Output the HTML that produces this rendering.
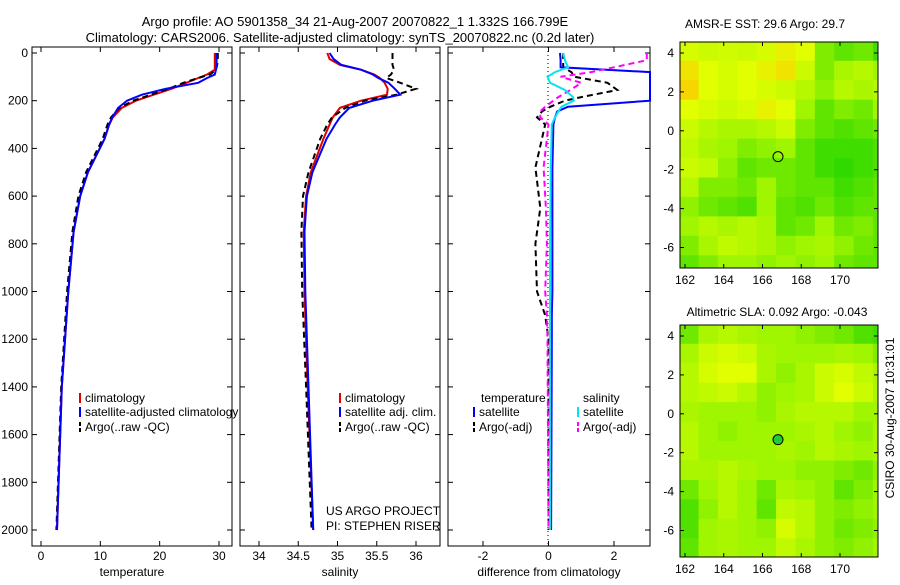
<!DOCTYPE html>
<html><head><meta charset="utf-8"><style>
body{margin:0;background:#fff;}
svg text{font-family:"Liberation Sans",sans-serif;font-size:12px;fill:#000;}
</style></head><body>
<svg id="s" width="900" height="580" xmlns="http://www.w3.org/2000/svg">
<text x="355" y="26" text-anchor="middle" style="font-size:13px">Argo profile: AO 5901358_34 21-Aug-2007 20070822_1 1.332S 166.799E</text>
<text x="340" y="42" text-anchor="middle" style="font-size:13px">Climatology: CARS2006. Satellite-adjusted climatology: synTS_20070822.nc (0.2d later)</text>
<text x="765" y="28" text-anchor="middle">AMSR-E SST: 29.6 Argo: 29.7</text>
<text x="777" y="316" text-anchor="middle">Altimetric SLA: 0.092 Argo: -0.043</text>
<text transform="translate(894,418) rotate(-90)" text-anchor="middle">CSIRO 30-Aug-2007 10:31:01</text>
</svg>
<script>
const depths=[0,25,50,70,90,105,125,150,175,200,230,270,300,360,500,600,750,1000,1400,2000];
const tClim=[29.3,29.3,29.3,29.3,28,26.5,24.5,22,19,16,13.6,12.1,11.5,10.7,7.9,6.6,5.5,4.6,3.5,2.7];
const tSat=[29.6,29.6,29.6,29.5,29.3,28,26.5,21,17,14.5,13,12,11.5,10.7,7.9,6.6,5.5,4.6,3.5,2.7];
const tArgo=[29.8,29.8,29.7,29.5,28.5,26.5,24,21.5,18.5,15.5,13.2,11.8,11.2,10.4,7.6,6.3,5.3,4.4,3.4,2.6];
const sClim=[34.87,34.9,35.03,35.3,35.47,35.54,35.6,35.64,35.63,35.3,35.03,34.94,34.9,34.82,34.66,34.6,34.57,34.58,34.62,34.69];
const sSat=[34.9,34.95,35.05,35.3,35.45,35.52,35.65,35.73,35.8,35.45,35.15,35.03,34.97,34.86,34.68,34.61,34.58,34.59,34.63,34.69];
const sArgo=[35.7,35.7,35.7,35.72,35.68,35.62,35.8,36.0,35.75,35.35,35.1,34.93,34.87,34.78,34.63,34.56,34.54,34.55,34.6,34.67];
const dDepths=[0,30,60,80,100,125,155,185,200,225,245,270,300,480,650,800,1000,1100,1200,2000];
const dTSat=[0.35,0.37,0.37,3.2,3.5,3.5,3.5,3.5,3.3,0.6,0.27,0.2,0.15,0.12,0.12,0.12,0.12,0.1,0.1,0.08];
const dTArgo=[0.45,0.45,0.45,0.7,0.8,1.8,2.1,1.0,0.5,0.06,-0.2,-0.35,-0.1,-0.4,-0.25,-0.4,-0.35,-0.1,0,0];
const dSSat=[0.45,0.5,0.6,0.2,-0.03,0.05,0.5,0.75,0.77,0.4,0.3,0.2,0.1,0.07,0.06,0.05,0.05,0.05,0.05,0.05];
const dSArgo=[3,3,2,1.3,0.37,1.0,0.67,0.3,0.15,-0.1,-0.25,-0.25,0,-0.15,-0.08,-0.05,-0.1,-0.05,-0.03,0];
const depthTicks=[0,200,400,600,800,1000,1200,1400,1600,1800,2000];
const tTicks=[0,10,20,30];
const sTicks=[34,34.5,35,35.5,36];
const dTicks=[-2,0,2];
const lonTicks=[162,164,166,168,170];
const latTicks=[4,2,0,-2,-4,-6];
const sstGrid=[
[0.75,0.7,0.72,0.7,0.75,0.85,0.8,0.4,0.3,0.35,0.2],
[0.9,0.8,0.75,0.8,0.85,0.9,0.7,0.4,0.55,0.6,0.5],
[0.95,0.8,0.75,0.8,0.75,0.7,0.6,0.45,0.6,0.55,0.6],
[0.8,0.75,0.7,0.75,0.85,0.8,0.5,0.3,0.4,0.35,0.5],
[0.7,0.6,0.55,0.55,0.6,0.7,0.4,0.3,0.25,0.3,0.35],
[0.65,0.55,0.5,0.4,0.45,0.5,0.3,0.2,0.2,0.2,0.25],
[0.7,0.65,0.45,0.3,0.35,0.35,0.3,0.2,0.15,0.2,0.25],
[0.6,0.4,0.4,0.35,0.5,0.35,0.3,0.3,0.2,0.25,0.3],
[0.45,0.35,0.3,0.25,0.5,0.3,0.25,0.35,0.25,0.3,0.3],
[0.5,0.6,0.55,0.6,0.55,0.3,0.35,0.5,0.35,0.4,0.3],
[0.4,0.55,0.65,0.6,0.55,0.45,0.5,0.55,0.45,0.35,0.3],
[0.3,0.4,0.5,0.5,0.45,0.5,0.45,0.5,0.35,0.3,0.3]];
const slaGrid=[
[0.35,0.55,0.6,0.55,0.5,0.5,0.45,0.4,0.35,0.25,0.2],
[0.55,0.7,0.75,0.7,0.55,0.5,0.5,0.5,0.55,0.5,0.4],
[0.6,0.75,0.8,0.8,0.55,0.45,0.55,0.7,0.75,0.65,0.55],
[0.6,0.65,0.7,0.6,0.45,0.5,0.55,0.7,0.8,0.7,0.55],
[0.55,0.5,0.5,0.5,0.45,0.55,0.6,0.6,0.6,0.5,0.5],
[0.6,0.5,0.45,0.5,0.5,0.5,0.55,0.6,0.5,0.45,0.55],
[0.6,0.5,0.5,0.5,0.5,0.55,0.5,0.6,0.55,0.5,0.55],
[0.55,0.55,0.6,0.55,0.5,0.5,0.45,0.45,0.4,0.35,0.45],
[0.35,0.5,0.6,0.5,0.35,0.55,0.5,0.45,0.3,0.4,0.5],
[0.25,0.45,0.6,0.5,0.3,0.65,0.6,0.45,0.4,0.45,0.5],
[0.25,0.5,0.55,0.5,0.45,0.75,0.6,0.45,0.35,0.4,0.45],
[0.3,0.5,0.55,0.5,0.5,0.65,0.55,0.45,0.4,0.45,0.5]];

const NS="http://www.w3.org/2000/svg";
const svg=document.getElementById('s');
function mk(tag,attrs,parent){const e=document.createElementNS(NS,tag);for(const k in attrs)e.setAttribute(k,attrs[k]);(parent||svg).appendChild(e);return e;}
const yD=d=>53+d*0.2385;
function lin(v0,p0,v1,p1){return v=>p0+(v-v0)*(p1-p0)/(v1-v0);}
const panels=[
 {name:'temperature-panel',x0:32,x1:232,xs:lin(0,41,30,219),ticks:tTicks,label:'temperature'},
 {name:'salinity-panel',x0:240,x1:440,xs:lin(34,259,36,416),ticks:sTicks,label:'salinity'},
 {name:'difference-panel',x0:448,x1:650,xs:lin(-2,483,2,614),ticks:dTicks,label:'difference from climatology'}];
const yTop=47,yBot=546;
panels.forEach((p,i)=>{
 const g=mk('g',{});
 
 
 const r=mk('rect',{x:p.x0,y:yTop,width:p.x1-p.x0,height:yBot-yTop,fill:'#fff',stroke:'#000','stroke-width':1},g);
 
 
 p.ticks.forEach(t=>{const x=p.xs(t);
  mk('line',{x1:x,x2:x,y1:yBot,y2:yBot-5,stroke:'#000'},g);mk('line',{x1:x,x2:x,y1:yTop,y2:yTop+5,stroke:'#000'},g);
  const tx=mk('text',{x:x,y:yBot+14,'text-anchor':'middle'},g);tx.textContent=t;
  
  });
 depthTicks.forEach(d=>{const y=yD(d);
  mk('line',{x1:p.x0,x2:p.x0+5,y1:y,y2:y,stroke:'#000'},g);mk('line',{x1:p.x1,x2:p.x1-5,y1:y,y2:y,stroke:'#000'},g);
  if(i==0){const tx=mk('text',{x:28,y:y+4,'text-anchor':'end'},g);tx.textContent=d;
  
  }});
 const lb=mk('text',{x:(p.x0+p.x1)/2,y:576,'text-anchor':'middle'},g);lb.textContent=p.label;
 
 
});
function line(p,xs,ys,col,dash,w,name){
 const pts=xs.map((v,k)=>Math.max(p.x0,Math.min(p.x1,p.xs(v))).toFixed(1)+','+yD(ys[k]).toFixed(1)).join(' ');
 const e=mk('polyline',{points:pts,fill:'none',stroke:col,'stroke-width':w||2,'stroke-dasharray':dash||'none'});
 
 
}
line(panels[0],tClim,depths,'#e00000','',2,'temp-climatology-line');
line(panels[0],tArgo,depths,'#000','6,4',2,'temp-argo-line');
line(panels[0],tSat,depths,'#0000ff','',2,'temp-satellite-line');
line(panels[1],sClim,depths,'#e00000','',2,'sal-climatology-line');
line(panels[1],sArgo,depths,'#000','6,4',2,'sal-argo-line');
line(panels[1],sSat,depths,'#0000ff','',2,'sal-satellite-line');
mk('line',{x1:548,x2:548,y1:yTop,y2:yBot,stroke:'#000','stroke-dasharray':'1,3'});
line(panels[2],dTArgo,dDepths,'#000','6,4',2,'temp-argo-diff-line');
line(panels[2],dTSat,dDepths,'#0000ff','',2,'temp-satellite-diff-line');
line(panels[2],dSArgo,dDepths,'#ff00ff','6,4',2,'sal-argo-diff-line');
line(panels[2],dSSat,dDepths,'#00e5ee','',2,'sal-satellite-diff-line');
function leg(x,y,col,dash,txt,name){
 const g=mk('g',{});
 
 
 mk('line',{x1:x,x2:x,y1:y-9,y2:y+1,stroke:col,'stroke-width':2,'stroke-dasharray':dash||'none'},g);
 const t=mk('text',{x:x+5,y:y},g);t.textContent=txt;
}
leg(80,402,'#e00000','','climatology','legend-entry-climatology');
leg(80,416,'#0000ff','','satellite-adjusted climatology','legend-entry-satellite');
leg(80,431,'#000','4,2','Argo(..raw -QC)','legend-entry-argo');
leg(340,402,'#e00000','','climatology','legend-entry-climatology');
leg(340,416,'#0000ff','','satellite adj. clim.','legend-entry-satellite');
leg(340,431,'#000','4,2','Argo(..raw -QC)','legend-entry-argo');
let t1=mk('text',{x:481,y:402});t1.textContent='temperature';


let t2=mk('text',{x:583,y:402});t2.textContent='salinity';


leg(474,416,'#0000ff','','satellite','legend-entry-temp-satellite');
leg(474,431,'#000','4,2','Argo(-adj)','legend-entry-temp-argo');
leg(578,416,'#00e5ee','','satellite','legend-entry-sal-satellite');
leg(578,431,'#ff00ff','4,2','Argo(-adj)','legend-entry-sal-argo');
let c1=mk('text',{x:326,y:515});c1.textContent='US ARGO PROJECT';


let c2=mk('text',{x:326,y:530});c2.textContent='PI: STEPHEN RISER';


function col(v){
 let r,g;
 if(v<0.5){r=0+160*v/0.5;g=205+40*v/0.5;}
 else if(v<0.8){r=160+(225-160)*(v-0.5)/0.3;g=245+10*(v-0.5)/0.3;}
 else{r=225+30*(v-0.8)/0.2;g=255-55*(v-0.8)/0.2;}
 return `rgb(${r|0},${g|0},0)`;
}
function map(grid,y0,y1,name,filled){
 const x0=680,x1=878;
 const xs=lin(162,685,170,840), ys=lin(4,y0+11,-6,y0+11+10*19.45);
 const g=mk('g',{});
 
 
 const cp=mk('clipPath',{id:name+'c'},g);
 mk('rect',{x:x0,y:y0,width:x1-x0,height:y1-y0},cp);
 const cg=mk('g',{'clip-path':`url(#${name}c)`},g);
 grid.forEach((row,ri)=>row.forEach((v,ci)=>{
  const lon=161.7+ci, lat=4.6-ri;
  const x=xs(lon),y=ys(lat);
  const c=mk('rect',{x:x,y:y,width:xs(lon+1)-x+0.5,height:ys(lat-1)-y+0.5,fill:col(v)},cg);
  
  
 }));
 mk('rect',{x:x0,y:y0,width:x1-x0,height:y1-y0,fill:'none',stroke:'#000'},g);
 lonTicks.forEach(l=>{const x=xs(l);mk('line',{x1:x,x2:x,y1:y1,y2:y1-4,stroke:'#000'},g);mk('line',{x1:x,x2:x,y1:y0,y2:y0+4,stroke:'#000'},g);
  const t=mk('text',{x:x,y:y1+16,'text-anchor':'middle'},g);t.textContent=l;
  
  });
 latTicks.forEach(l=>{const y=ys(l);mk('line',{x1:x0,x2:x0+4,y1:y,y2:y,stroke:'#000'},g);mk('line',{x1:x1,x2:x1-4,y1:y,y2:y,stroke:'#000'},g);
  const t=mk('text',{x:x0-6,y:y+4,'text-anchor':'end'},g);t.textContent=l;
  
  });
 const m=mk('circle',{cx:xs(166.8),cy:ys(-1.33),r:5,fill:filled?'#22cc33':'none',stroke:'#000'},g);
 
 
}
map(sstGrid,42,268,'sst-map',false);
map(slaGrid,325,557,'sla-map',true);
</script>
</body></html>
